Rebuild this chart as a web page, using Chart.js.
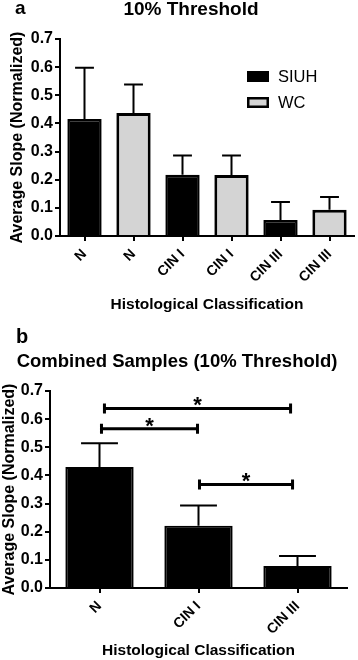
<!DOCTYPE html>
<html lang="en">
<head>
<meta charset="UTF-8">
<title>Average Slope by Histological Classification</title>
<script src="https://cdn.jsdelivr.net/npm/chart.js"></script>
<style>
  body { margin: 0; background: #fff; font-family: 'Liberation Sans', Arial, sans-serif; }
  #wrap { position: relative; width: 358px; height: 660px; overflow: hidden; }
  .panel { position: absolute; left: 0; width: 358px; height: 330px; }
  .panel canvas { display: block; }
  .txt { position: absolute; font-weight: bold; line-height: 1; white-space: nowrap; color: #000; }
</style>
</head>
<body>
<div id="wrap">
  <div class="panel" style="top:0"><canvas id="chartA" width="358" height="330"></canvas></div>
  <div class="panel" style="top:330px"><canvas id="chartB" width="358" height="330"></canvas></div>
  <div class="txt" style="left:15px;top:-2px;font-size:19px">a</div>
  <div class="txt" style="left:191px;top:-1px;font-size:19px;transform:translateX(-50%)">10% Threshold</div>
  <div class="txt" style="left:16px;top:326px;font-size:20px">b</div>
  <div class="txt" style="left:177px;top:351.5px;font-size:18.5px;transform:translateX(-50%)">Combined Samples (10% Threshold)</div>
</div>

<script>
  // panel a: separate cohorts
  const labelsA = ["N", "N", "CIN I", "CIN I", "CIN III", "CIN III"];
  const siuhMean = [0.416, null, 0.218, null, 0.057, null];
  const siuhErr  = [0.182, null, 0.068, null, 0.064, null];
  const wcMean   = [null, 0.437, null, 0.217, null, 0.093];
  const wcErr    = [null, 0.101, null, 0.069, null, 0.046];

  // panel b: combined samples
  const labelsB = ["N", "CIN I", "CIN III"];
  const combinedMean = [0.430, 0.221, 0.078];
  const combinedErr  = [0.084, 0.072, 0.036];

  // significance brackets (category positions and height)
  const bracketFrom = [0.05, 0.02, 1.01];
  const bracketTo   = [1.93, 0.99, 1.95];
  const bracketY    = [0.638, 0.566, 0.368];
  const bracketMark = ["*", "*", "*"];

  const yTicks = [0, 0.1, 0.2, 0.3, 0.4, 0.5, 0.6, 0.7];

  Chart.defaults.font.family = "'Liberation Sans', Arial, sans-serif";
  Chart.defaults.color = "#000";

  const errorBars = {
    id: "errorBars",
    afterDatasetsDraw(chart, args, opts) {
      const ctx = chart.ctx;
      const yScale = chart.scales.y;
      chart.data.datasets.forEach((ds, i) => {
        const meta = chart.getDatasetMeta(i);
        meta.data.forEach((bar, j) => {
          const v = ds.data[j], e = ds.errors[j];
          if (v == null || e == null) return;
          const x = bar.x;
          const half = bar.width * opts.capRatio / 2;
          const y0 = yScale.getPixelForValue(v);
          const y1 = yScale.getPixelForValue(v + e);
          ctx.save();
          ctx.strokeStyle = "#000";
          ctx.lineWidth = opts.lineWidth;
          ctx.beginPath();
          ctx.moveTo(x, y0);
          ctx.lineTo(x, y1);
          ctx.moveTo(x - half, y1);
          ctx.lineTo(x + half, y1);
          ctx.stroke();
          ctx.restore();
        });
      });
    }
  };

  const boxLegend = {
    id: "boxLegend",
    afterDraw(chart, args, opts) {
      if (!opts.show) return;
      const ctx = chart.ctx;
      ctx.save();
      chart.data.datasets.forEach((ds, i) => {
        const top = opts.y + i * opts.gap;
        ctx.fillStyle = "#000";
        ctx.fillRect(opts.x, top, opts.w, opts.h);
        ctx.fillStyle = ds.backgroundColor;
        ctx.fillRect(opts.x + 2.5, top + 2.5, opts.w - 5, opts.h - 5);
        ctx.fillStyle = "#000";
        ctx.font = "16.5px 'Liberation Sans', Arial, sans-serif";
        ctx.textBaseline = "middle";
        ctx.textAlign = "left";
        ctx.fillText(ds.label, opts.x + opts.w + 9, top + opts.h / 2 + 1);
      });
      ctx.restore();
    }
  };

  const sigBrackets = {
    id: "sigBrackets",
    afterDatasetsDraw(chart, args, opts) {
      if (!opts.show) return;
      const ctx = chart.ctx;
      const xs = chart.scales.x, ys = chart.scales.y;
      ctx.save();
      ctx.strokeStyle = "#000";
      ctx.fillStyle = "#000";
      ctx.lineWidth = 3;
      bracketY.forEach((yv, k) => {
        const x0 = xs.getPixelForValue(bracketFrom[k]);
        const x1 = xs.getPixelForValue(bracketTo[k]);
        const y = ys.getPixelForValue(yv);
        ctx.beginPath();
        ctx.moveTo(x0, y); ctx.lineTo(x1, y);
        ctx.moveTo(x0, y - 5); ctx.lineTo(x0, y + 5);
        ctx.moveTo(x1, y - 5); ctx.lineTo(x1, y + 5);
        ctx.stroke();
        ctx.font = "bold 22px 'Liberation Sans', Arial, sans-serif";
        ctx.textAlign = "center";
        ctx.textBaseline = "alphabetic";
        ctx.fillText(bracketMark[k], (x0 + x1) / 2, y + 4);
      });
      ctx.restore();
    }
  };

  function makeScales(yWidth, xHeight, yTitlePad, xTitlePad) {
    return {
      x: {
        grid: { display: true, drawOnChartArea: false, offset: false, tickLength: 5, color: "#000", lineWidth: 2 },
        border: { color: "#000", width: 2 },
        ticks: { color: "#000", font: { size: 14, weight: "bold" }, minRotation: 45, maxRotation: 45, padding: 5 },
        title: { display: true, text: "Histological Classification", color: "#000",
                 font: { size: 15.5, weight: "bold" }, padding: { top: 0, bottom: xTitlePad } },
        afterFit(s) { s.height = xHeight; }
      },
      y: {
        min: 0, max: 0.7,
        afterBuildTicks(s) { s.ticks = yTicks.map(v => ({ value: v })); },
        ticks: { color: "#000", font: { size: 16, weight: "bold" }, padding: 2, callback: v => v.toFixed(1) },
        grid: { drawOnChartArea: false, tickLength: 5, color: "#000", lineWidth: 2 },
        border: { color: "#000", width: 2 },
        title: { display: true, text: "Average Slope (Normalized)", color: "#000",
                 font: { size: 16, weight: "bold" }, padding: { top: yTitlePad, bottom: 0 } },
        afterFit(s) { s.width = yWidth; }
      }
    };
  }

  new Chart(document.getElementById("chartA"), {
    type: "bar",
    data: {
      labels: labelsA,
      datasets: [
        { label: "SIUH", data: siuhMean, errors: siuhErr, backgroundColor: "#000", borderColor: "#000", borderWidth: 2.5 },
        { label: "WC", data: wcMean, errors: wcErr, backgroundColor: "#d4d4d4", borderColor: "#000", borderWidth: 3 }
      ]
    },
    options: {
      responsive: false,
      animation: false,
      devicePixelRatio: 1,
      layout: { padding: { top: 39, right: 4, bottom: 0, left: 0 } },
      datasets: { bar: { skipNull: true, categoryPercentage: 1, barPercentage: 0.7 } },
      plugins: {
        legend: { display: false },
        tooltip: { enabled: false },
        errorBars: { capRatio: 0.55, lineWidth: 2 },
        boxLegend: { show: true, x: 247, y: 71, w: 22, h: 11, gap: 26 }
      },
      scales: makeScales(60, 94, 8, 16)
    },
    plugins: [errorBars, boxLegend]
  });

  new Chart(document.getElementById("chartB"), {
    type: "bar",
    data: {
      labels: labelsB,
      datasets: [
        { label: "Combined", data: combinedMean, errors: combinedErr, backgroundColor: "#000", borderColor: "#000", borderWidth: 2 }
      ]
    },
    options: {
      responsive: false,
      animation: false,
      devicePixelRatio: 1,
      layout: { padding: { top: 61, right: 11, bottom: 0, left: 0 } },
      datasets: { bar: { categoryPercentage: 1, barPercentage: 0.69 } },
      plugins: {
        legend: { display: false },
        tooltip: { enabled: false },
        errorBars: { capRatio: 0.54, lineWidth: 2 },
        sigBrackets: { show: true }
      },
      scales: makeScales(50, 72, 0, 0)
    },
    plugins: [errorBars, sigBrackets]
  });
</script>
</body>
</html>
